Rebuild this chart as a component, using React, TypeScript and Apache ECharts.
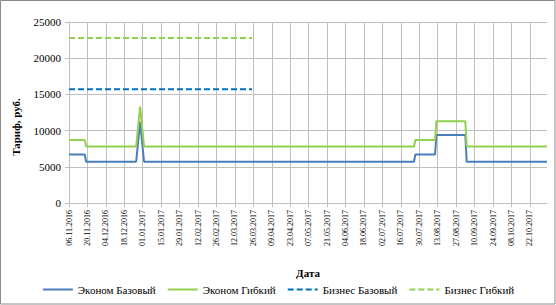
import React, { useEffect, useRef } from "react";
import * as echarts from "echarts";

// Axis: one category per day starting 06.11.2016
const START_DATE = Date.UTC(2016, 10, 6);
const DAY_COUNT = 364; // days 0..363
const TICK_LABELS_EVERY = 14;

// Y axis
const Y_MIN = 0;
const Y_MAX = 25000;
const Y_STEP = 5000;

// Series values: [day index from 06.11.2016, tariff]
const economyBasic: [number, number][] = [
  [0, 6700], [12, 6700], [13, 5700], [51, 5700], [54, 11200], [57, 5700],
  [262, 5700], [263, 6700], [278, 6700], [279, 9400], [301, 9400], [302, 5700], [363, 5700],
];
const economyFlex: [number, number][] = [
  [0, 8700], [12, 8700], [13, 7800], [51, 7800], [54, 13300], [57, 7800],
  [262, 7800], [263, 8700], [278, 8700], [279, 11300], [301, 11300], [302, 7800], [363, 7800],
];
const businessBasic: [number, number][] = [
  [0, 15700], [139, 15700],
];
const businessFlex: [number, number][] = [
  [0, 22800], [139, 22800],
];

const SERIES_NAMES = ["Эконом Базовый", "Эконом Гибкий", "Бизнес Базовый", "Бизнес Гибкий"];

function fmt(d: number): string {
  const dt = new Date(START_DATE + d * 86400000);
  const dd = String(dt.getUTCDate()).padStart(2, "0");
  const mm = String(dt.getUTCMonth() + 1).padStart(2, "0");
  return `${dd}.${mm}.${dt.getUTCFullYear()}`;
}

const categories: string[] = [];
for (let i = 0; i < DAY_COUNT; i++) categories.push(fmt(i));

const FONT = "Times New Roman, Liberation Serif, DejaVu Serif, serif";
const GRID = "#bfbfbf";

export default function App() {
  const ref = useRef<HTMLDivElement>(null);
  useEffect(() => {
    if (!ref.current) return;
    const chart = echarts.init(ref.current, undefined, { renderer: "svg" });
    chart.setOption({
      animation: false,
      backgroundColor: "#fff",
      textStyle: { fontFamily: FONT },
      grid: { left: 69, right: 9, top: 22, bottom: 102 },
      graphic: [
        {
          type: "rect",
          shape: { x: 0.5, y: 0.5, width: 554.5, height: 303.5 },
          style: { fill: "none", stroke: "#8a8a8a", lineWidth: 1 },
          silent: true,
        },
        {
          type: "text",
          x: 16,
          y: 127,
          rotation: Math.PI / 2,
          style: {
            text: "Тариф, руб.",
            fontFamily: FONT,
            fontWeight: "bold",
            fontSize: 11,
            fill: "#000",
            align: "center",
            verticalAlign: "middle",
          },
        },
      ],
      legend: {
        data: SERIES_NAMES,
        left: "center",
        top: 279,
        itemWidth: 30,
        itemHeight: 10,
        itemGap: 11,
        itemStyle: { opacity: 0 },
        textStyle: { fontFamily: FONT, fontSize: 11, color: "#000" },
      },
      xAxis: {
        type: "category",
        data: categories,
        boundaryGap: false,
        name: "Дата",
        nameLocation: "middle",
        nameGap: 64,
        nameTextStyle: { fontFamily: FONT, fontWeight: "bold", fontSize: 11, color: "#000" },
        axisLine: { lineStyle: { color: GRID, width: 1 } },
        axisTick: { show: true, interval: TICK_LABELS_EVERY - 1, length: 4, lineStyle: { color: GRID } },
        axisLabel: {
          interval: TICK_LABELS_EVERY - 1,
          rotate: 90,
          fontSize: 8,
          fontFamily: FONT,
          color: "#000",
          margin: 7,
        },
        splitLine: { show: true, interval: TICK_LABELS_EVERY - 1, lineStyle: { color: GRID, width: 1 } },
      },
      yAxis: {
        type: "value",
        min: Y_MIN,
        max: Y_MAX,
        interval: Y_STEP,
        axisLine: { show: true, lineStyle: { color: GRID, width: 1 } },
        axisTick: { show: true, length: 4, lineStyle: { color: GRID } },
        axisLabel: {
          fontSize: 11,
          fontFamily: FONT,
          color: "#000",
          margin: 8,
          formatter: (v: number) => String(v),
        },
        splitLine: { show: true, lineStyle: { color: GRID, width: 1 } },
      },
      series: [
        {
          name: SERIES_NAMES[0],
          type: "line",
          data: economyBasic,
          symbol: "none",
          lineStyle: { color: "#4A7EBB", width: 2 },
          itemStyle: { color: "#4A7EBB" },
        },
        {
          name: SERIES_NAMES[1],
          type: "line",
          data: economyFlex,
          symbol: "none",
          lineStyle: { color: "#92D050", width: 2 },
          itemStyle: { color: "#92D050" },
        },
        {
          name: SERIES_NAMES[2],
          type: "line",
          data: businessBasic,
          symbol: "none",
          lineStyle: { color: "#0070C0", width: 2, type: [6, 3] },
          itemStyle: { color: "#0070C0" },
        },
        {
          name: SERIES_NAMES[3],
          type: "line",
          data: businessFlex,
          symbol: "none",
          lineStyle: { color: "#92D050", width: 2, type: [6, 3] },
          itemStyle: { color: "#92D050" },
        },
      ],
    });
    return () => chart.dispose();
  }, []);
  return (
    <div
      ref={ref}
      style={{ position: "absolute", left: 0, top: 0, width: 556, height: 305 }}
    />
  );
}
